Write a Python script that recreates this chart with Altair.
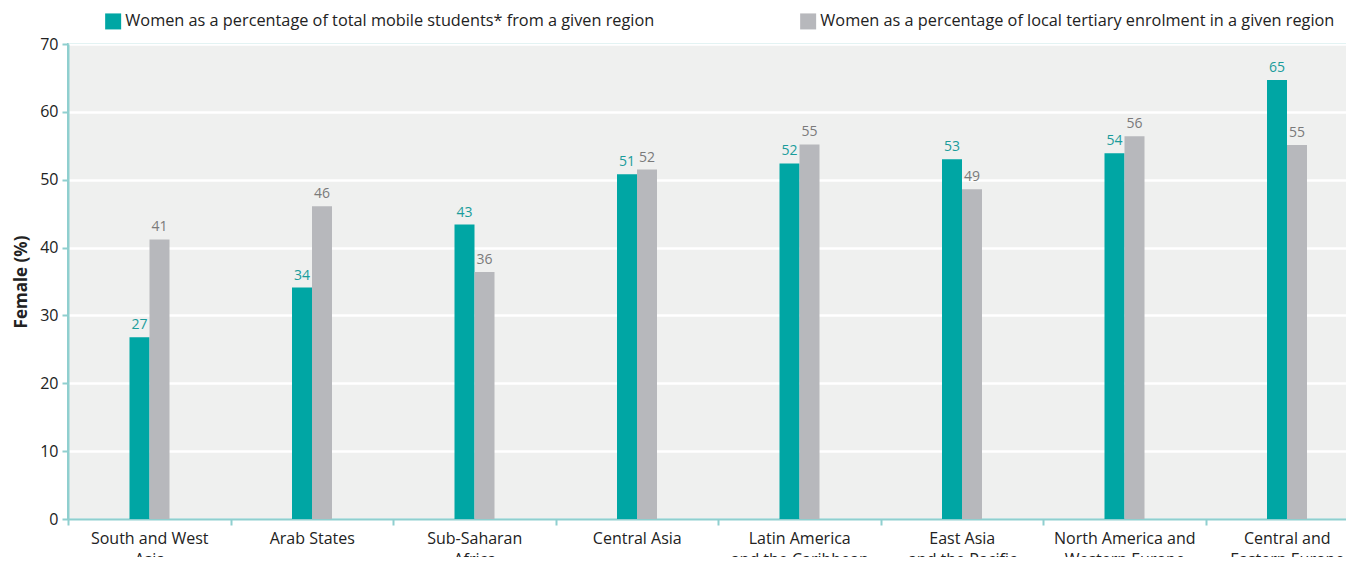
import altair as alt
import pandas as pd

regions = [
    "South and West\nAsia",
    "Arab States",
    "Sub-Saharan\nAfrica",
    "Central Asia",
    "Latin America\nand the Caribbean",
    "East Asia\nand the Pacific",
    "North America and\nWestern Europe",
    "Central and\nEastern Europe",
]
mobile = [26.8, 34.1, 43.4, 50.8, 52.4, 53.0, 53.9, 64.7]
local = [41.2, 46.1, 36.4, 51.5, 55.2, 48.6, 56.4, 55.1]

s_mobile = "Women as a percentage of total mobile students* from a given region"
s_local = "Women as a percentage of local tertiary enrolment in a given region"

rows = []
for r, m, l in zip(regions, mobile, local):
    rows.append({"region": r, "series": s_mobile, "value": m})
    rows.append({"region": r, "series": s_local, "value": l})
df = pd.DataFrame(rows)

TEAL = "#00a6a4"
GRAY = "#b7b8bc"
AXIS = "#8fcfcf"
FONT = "Open Sans"

x = alt.X("region:N", sort=regions, title=None,
          scale=alt.Scale(paddingInner=0, paddingOuter=0),
          axis=alt.Axis(labelExpr="split(datum.label, '\\n')", labelAngle=0,
                        tickBand="extent", labelFontSize=16, labelColor="#222",
                        labelFont=FONT, labelPadding=5, labelLineHeight=21,
                        domainColor=AXIS, domainWidth=2, tickColor=AXIS,
                        tickWidth=2, tickSize=6, grid=False, labelBaseline="top"))
xo = alt.XOffset("series:N", sort=[s_mobile, s_local],
                 scale=alt.Scale(range=[61.5, 101.5], paddingInner=0, paddingOuter=0))
y = alt.Y("value:Q", title="Female (%)",
          scale=alt.Scale(domain=[0, 70], nice=False),
          axis=alt.Axis(values=list(range(0, 71, 10)), labelFontSize=16,
                        labelColor="#222", labelFont=FONT, titleFont=FONT,
                        titleFontSize=17, titleFontWeight="bold", titleColor="#222",
                        titlePadding=9, domainColor=AXIS, domainWidth=2,
                        tickColor=AXIS, tickWidth=2, tickSize=6,
                        gridColor="white", gridWidth=2.5, labelPadding=4))

bars = alt.Chart(df).mark_bar().encode(
    x=x, xOffset=xo, y=y,
    color=alt.Color("series:N", sort=[s_mobile, s_local],
                    scale=alt.Scale(domain=[s_mobile, s_local], range=[TEAL, GRAY]),
                    legend=alt.Legend(title=None, orient="none", legendX=37, legendY=-31,
                                      direction="horizontal", symbolType="square",
                                      symbolSize=256, symbolStrokeWidth=0,
                                      labelFontSize=16.3, labelFont=FONT, labelColor="#222",
                                      columnPadding=145, labelLimit=700,
                                      symbolOffset=0, labelOffset=4)),
)

labels = alt.Chart(df).mark_text(baseline="bottom", dy=-5, fontSize=14, font=FONT).encode(
    x=x, xOffset=xo, y=y,
    text=alt.Text("value:Q", format=".0f"),
    color=alt.condition(alt.datum.series == s_mobile, alt.value("#1a9c9b"), alt.value("#7a7a7a")),
)

chart = (bars + labels).properties(
    width=1300, height=475,
    autosize=alt.AutoSizeParams(type="none"),
    padding={"left": 60, "top": 36, "right": -22, "bottom": 38},
    background="white",
).configure_view(fill="#eff0ef", stroke=AXIS, strokeWidth=2)

chart.save("out.html", embed_options={"renderer": "svg", "actions": False})
